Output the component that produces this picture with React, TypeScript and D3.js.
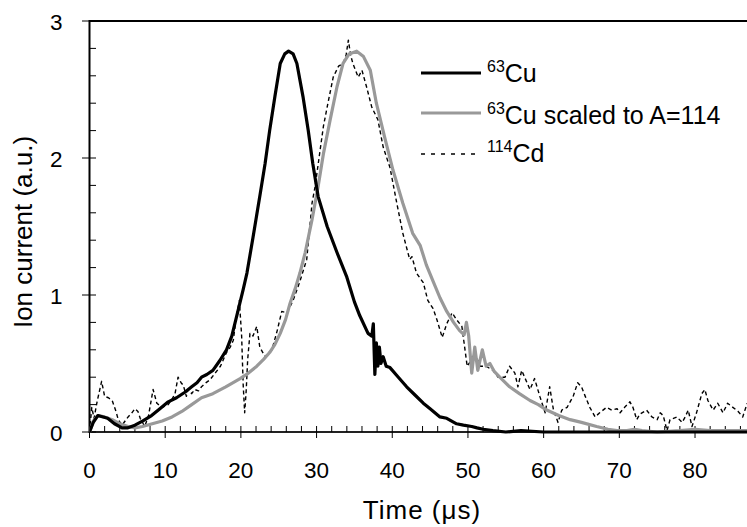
import React from "react";
import * as d3 from "d3";

// 63Cu
const cuT = [0, 0.5, 1.1, 2.4, 3.3, 4.3, 5.0, 6.0, 7.0, 8.2, 9.3, 10.4, 11.5, 12.6, 13.5, 14.2, 14.8, 15.5, 16.3, 17.2, 18.1, 18.8, 19.6, 20.3, 20.8, 21.6, 22.5, 23.2, 23.8, 24.5, 25.2, 25.8, 26.3, 26.9, 27.4, 28.2, 28.9, 29.5, 30.2, 31.4, 32.7, 34.0, 35.0, 35.7, 36.8, 37.3, 37.5, 37.7, 37.9, 38.1, 38.3, 38.5, 38.8, 39.2, 39.7, 40.8, 41.9, 43.0, 44.1, 45.0, 46.3, 47.2, 48.5, 49.4, 50.5, 51.2, 52.0, 53.3, 55, 57, 60, 65, 70, 75, 80, 87];
const cuV = [0.0, 0.07, 0.12, 0.10, 0.06, 0.03, 0.03, 0.05, 0.08, 0.12, 0.17, 0.22, 0.25, 0.29, 0.33, 0.36, 0.40, 0.42, 0.45, 0.52, 0.60, 0.70, 0.88, 1.04, 1.16, 1.42, 1.72, 1.96, 2.20, 2.45, 2.69, 2.76, 2.78, 2.76, 2.69, 2.45, 2.20, 1.96, 1.72, 1.50, 1.31, 1.13, 0.95, 0.85, 0.72, 0.70, 0.79, 0.42, 0.65, 0.48, 0.62, 0.50, 0.55, 0.48, 0.47, 0.40, 0.33, 0.27, 0.21, 0.17, 0.11, 0.10, 0.06, 0.05, 0.04, 0.03, 0.02, 0.01, 0.0, 0.01, 0.0, 0.0, 0.0, 0.0, 0.0, 0.0];

// 63Cu scaled to A=114
const scT = [0, 0.5, 1.1, 2.0, 3.0, 4.0, 5.1, 6.0, 7.0, 8.3, 9.6, 10.9, 12.2, 13.5, 14.8, 16.3, 18.0, 19.9, 21.0, 22.1, 23.0, 23.8, 24.5, 25.2, 25.9, 26.5, 27.2, 27.8, 28.5, 29.4, 30.2, 30.9, 31.8, 32.7, 33.5, 34.3, 35.3, 36.2, 37.1, 37.9, 39.0, 40.1, 41.4, 42.7, 43.7, 44.5, 45.4, 46.3, 47.2, 48.1, 48.9, 49.5, 49.8, 50.1, 50.5, 50.9, 51.3, 51.9, 52.4, 52.9, 53.5, 54.2, 55.5, 56.8, 58.2, 59.3, 60.4, 62.0, 63.5, 65.0, 67.0, 68.5, 69.7, 71, 72, 73, 75, 78, 80, 82, 85, 87];
const scV = [0.0, 0.08, 0.12, 0.11, 0.09, 0.06, 0.04, 0.03, 0.04, 0.06, 0.08, 0.11, 0.15, 0.20, 0.25, 0.28, 0.33, 0.39, 0.43, 0.48, 0.53, 0.58, 0.64, 0.72, 0.82, 0.94, 1.05, 1.16, 1.31, 1.55, 1.79, 2.03, 2.28, 2.52, 2.69, 2.76, 2.78, 2.74, 2.64, 2.40, 2.15, 1.91, 1.67, 1.45, 1.36, 1.22, 1.10, 0.98, 0.88, 0.80, 0.74, 0.71, 0.80, 0.70, 0.43, 0.62, 0.45, 0.60, 0.48, 0.50, 0.44, 0.40, 0.33, 0.28, 0.23, 0.20, 0.16, 0.12, 0.09, 0.07, 0.04, 0.02, 0.01, 0.01, 0.02, 0.01, 0.0, 0.01, 0.02, 0.01, 0.01, 0.01];

// 114Cd
const cdT = [0, 0.3, 0.6, 1.0, 1.6, 2.0, 2.5, 3.0, 3.5, 3.8, 4.3, 5.1, 5.6, 6.0, 6.4, 6.7, 7.3, 7.8, 8.4, 8.9, 9.6, 10.4, 10.9, 11.3, 11.7, 12.1, 12.4, 12.8, 13.0, 13.5, 13.9, 14.4, 14.8, 15.4, 15.9, 16.6, 17.3, 18.1, 18.6, 19.0, 19.4, 19.8, 20.1, 20.3, 20.5, 20.7, 20.9, 21.2, 21.6, 22.1, 22.5, 23.2, 23.7, 24.1, 24.8, 25.4, 26.1, 26.9, 27.8, 28.7, 29.4, 29.8, 30.4, 30.9, 31.5, 32.2, 32.9, 33.5, 33.9, 34.2, 34.5, 34.8, 35.5, 36.0, 36.6, 37.3, 38.1, 38.8, 39.7, 40.6, 41.4, 42.3, 42.6, 43.2, 44.1, 44.7, 45.4, 45.9, 46.6, 47.2, 47.9, 48.5, 49.2, 49.9, 50.5, 50.9, 51.6, 52.4, 53.3, 54.0, 54.9, 55.5, 56.2, 56.6, 57.1, 57.8, 58.2, 58.8, 59.5, 60.2, 60.8, 61.3, 61.9, 62.4, 63.1, 63.9, 64.5, 65.0, 65.5, 66.1, 66.8, 67.4, 68.3, 69.0, 69.7, 70.1, 70.7, 71.4, 71.8, 72.3, 72.7, 73.6, 74.3, 75.0, 75.4, 75.8, 76.3, 76.7, 77.6, 78.3, 78.7, 79.1, 79.6, 80.2, 80.9, 81.3, 81.7, 82.4, 83.0, 83.7, 84.3, 85.0, 85.7, 86.3, 86.9];
const cdV = [0.0, 0.18, 0.10, 0.22, 0.37, 0.26, 0.25, 0.23, 0.15, 0.09, 0.05, 0.11, 0.14, 0.17, 0.15, 0.10, 0.04, 0.12, 0.31, 0.21, 0.18, 0.20, 0.24, 0.28, 0.40, 0.36, 0.34, 0.26, 0.31, 0.28, 0.31, 0.30, 0.33, 0.36, 0.38, 0.43, 0.48, 0.58, 0.62, 0.67, 0.84, 0.96, 0.70, 0.35, 0.14, 0.30, 0.53, 0.72, 0.70, 0.77, 0.62, 0.55, 0.58, 0.60, 0.74, 0.88, 0.87, 0.96, 1.10, 1.26, 1.67, 1.79, 2.03, 2.23, 2.40, 2.59, 2.67, 2.69, 2.75, 2.86, 2.75, 2.69, 2.59, 2.64, 2.52, 2.37, 2.28, 2.08, 1.93, 1.67, 1.45, 1.26, 1.28, 1.16, 1.09, 0.96, 0.90, 0.82, 0.69, 0.79, 0.87, 0.82, 0.77, 0.48, 0.53, 0.58, 0.48, 0.48, 0.45, 0.40, 0.40, 0.48, 0.43, 0.33, 0.45, 0.36, 0.31, 0.39, 0.26, 0.14, 0.33, 0.16, 0.07, 0.16, 0.18, 0.26, 0.36, 0.33, 0.26, 0.18, 0.11, 0.14, 0.18, 0.16, 0.17, 0.14, 0.18, 0.22, 0.18, 0.09, 0.13, 0.16, 0.11, 0.09, 0.14, 0.12, 0.01, 0.09, 0.11, 0.07, 0.11, 0.16, 0.04, 0.14, 0.28, 0.31, 0.23, 0.16, 0.21, 0.14, 0.21, 0.18, 0.15, 0.11, 0.21];

const xTicks = [0, 10, 20, 30, 40, 50, 60, 70, 80];
const yTicks = [0, 1, 2, 3];

const FONT = "'Liberation Sans', Arial, Helvetica, sans-serif";

export default function App() {
  const W = 747, H = 527;
  const x = d3.scaleLinear().domain([0, 87]).range([89.5, 748]);
  const y = d3.scaleLinear().domain([0, 3]).range([432, 21]);
  const line = d3
    .line<[number, number]>()
    .x((d) => x(d[0]))
    .y((d) => y(d[1]));
  const mk = (t: number[], v: number[]) => t.map((tt, i) => [tt, v[i]] as [number, number]);

  const xMinor = d3.range(0, 87, 2).filter((t) => t % 10 !== 0);
  const yMinor = d3.range(0, 3.001, 0.2).map((v) => +v.toFixed(1)).filter((v) => !Number.isInteger(v));

  return (
    <svg width={W} height={H} style={{ position: "absolute", left: 0, top: 0, background: "#fff" }} fontFamily={FONT}>
      <defs>
        <clipPath id="plot">
          <rect x={89.5} y={15} width={W - 89.5} height={432 - 15 + 2} />
        </clipPath>
      </defs>
      {/* top border */}
      <line x1={89} x2={W} y1={21} y2={21} stroke="#000" strokeWidth={2} />
      {/* x axis */}
      <line x1={89} x2={W} y1={432} y2={432} stroke="#222" strokeWidth={2} />
      {xTicks.map((t) => (
        <line key={"xM" + t} x1={x(t)} x2={x(t)} y1={426} y2={438} stroke="#000" strokeWidth={1} />
      ))}
      {xMinor.map((t) => (
        <line key={"xm" + t} x1={x(t)} x2={x(t)} y1={426} y2={432} stroke="#000" strokeWidth={1} />
      ))}
      {xTicks.map((t) => (
        <text key={"xl" + t} x={x(t)} y={478} textAnchor="middle" fontSize={22.5}>
          {t}
        </text>
      ))}
      {/* y axis */}
      <line x1={89.5} x2={89.5} y1={20} y2={433} stroke="#000" strokeWidth={2} />
      {yTicks.map((v) => (
        <line key={"yM" + v} x1={82} x2={96} y1={y(v)} y2={y(v)} stroke="#000" strokeWidth={1} />
      ))}
      {yMinor.map((v) => (
        <line key={"ym" + v} x1={89} x2={96} y1={y(v)} y2={y(v)} stroke="#000" strokeWidth={1} />
      ))}
      {yTicks.map((v) => (
        <text key={"yl" + v} x={62.5} y={y(v) + 8.5} textAnchor="end" fontSize={22.5}>
          {v}
        </text>
      ))}
      {/* titles */}
      <text transform="translate(32,232) rotate(-90)" textAnchor="middle" fontSize={26}>
        Ion current (a.u.)
      </text>
      <text x={422} y={519} textAnchor="middle" fontSize={26} letterSpacing={1}>
        Time (μs)
      </text>
      {/* series */}
      <g clipPath="url(#plot)" fill="none" strokeLinejoin="round">
        <path d={line(mk(cdT, cdV)) || ""} stroke="#000" strokeWidth={1.4} strokeDasharray="4 3" />
        <path d={line(mk(scT, scV)) || ""} stroke="#999" strokeWidth={3.2} />
        <path d={line(mk(cuT, cuV)) || ""} stroke="#000" strokeWidth={3.2} />
      </g>
      {/* legend */}
      <g fontSize={25}>
        <line x1={421} x2={481} y1={73} y2={73} stroke="#000" strokeWidth={3.2} />
        <text x={487} y={82}>
          <tspan fontSize={16} dy={-10}>63</tspan>
          <tspan dy={10}>Cu</tspan>
        </text>
        <line x1={421} x2={481} y1={113} y2={113} stroke="#999" strokeWidth={3.2} />
        <text x={487} y={124}>
          <tspan fontSize={16} dy={-10}>63</tspan>
          <tspan dy={10}>Cu scaled to A=114</tspan>
        </text>
        <line x1={421} x2={481} y1={154} y2={154} stroke="#000" strokeWidth={1.4} strokeDasharray="4 6" />
        <text x={487} y={162}>
          <tspan fontSize={16} dy={-10}>114</tspan>
          <tspan dy={10}>Cd</tspan>
        </text>
      </g>
    </svg>
  );
}
